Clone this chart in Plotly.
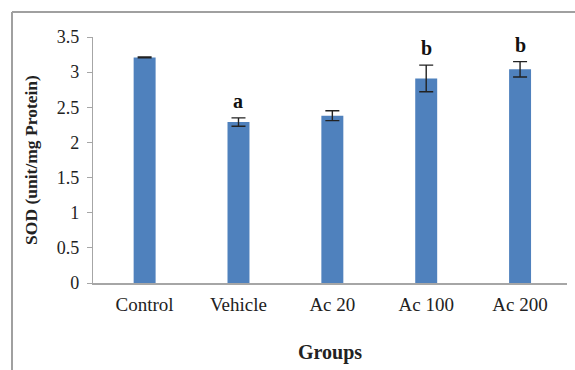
import plotly.graph_objects as go

# SOD activity per treatment group (mean ± SE)
groups = ["Control", "Vehicle", "Ac 20", "Ac 100", "Ac 200"]
sod_mean = [3.21, 2.29, 2.38, 2.91, 3.04]
sod_err = [0.005, 0.06, 0.07, 0.19, 0.11]
sig_letters = ["", "a", "", "b", "b"]

W, H = 575, 370
ML, MR, MT, MB = 93, 8, 37, 87
pw, ph = W - ML - MR, H - MT - MB

def px_to_paper_x(px):
    return (px - ML) / pw

def px_to_paper_y(py):
    return (H - py - MB) / ph

axis_grey = "#a6a6a6"
serif = "Liberation Serif, Times New Roman, serif"

fig = go.Figure(
    go.Bar(
        x=groups,
        y=sod_mean,
        width=0.234,
        marker=dict(color="#4F81BD", line=dict(width=0)),
        error_y=dict(type="data", array=sod_err, visible=True,
                     color="#222222", thickness=1.4, width=7),
        showlegend=False,
    )
)

# significance letters above the error bars
for g, m, e, s in zip(groups, sod_mean, sod_err, sig_letters):
    if s:
        fig.add_annotation(x=g, y=m + e, text=f"<b>{s}</b>", showarrow=False,
                           yanchor="bottom", yshift=4,
                           font=dict(family=serif, size=20, color="#111111"))

# outer frame of the chart area
x0, y0 = px_to_paper_x(12), px_to_paper_y(12)
x1, y1 = px_to_paper_x(W + 5), px_to_paper_y(H + 5)
fig.add_shape(type="line", xref="paper", yref="paper", x0=x0, y0=y0, x1=x1, y1=y0,
              line=dict(color="#a0a0a0", width=2))
fig.add_shape(type="line", xref="paper", yref="paper", x0=x0, y0=y0, x1=x0, y1=y1,
              line=dict(color="#a0a0a0", width=2))

fig.update_layout(
    width=W, height=H,
    margin=dict(l=ML, r=MR, t=MT, b=MB),
    paper_bgcolor="white", plot_bgcolor="white",
    font=dict(family=serif, size=19, color="#222222"),
    xaxis=dict(
        range=[-0.55, 4.5], showline=True, linecolor=axis_grey, linewidth=1.5,
        ticks="", showgrid=False, zeroline=False,
        tickfont=dict(size=19), ticklabelstandoff=3,
        title=dict(text="<b>Groups</b>", font=dict(size=20), standoff=31),
    ),
    yaxis=dict(
        range=[0, 3.5], dtick=0.5, showline=True, linecolor=axis_grey, linewidth=1.2,
        ticks="outside", ticklen=5, tickcolor=axis_grey, showgrid=False, zeroline=False,
        tickfont=dict(size=18), ticklabelstandoff=4,
        title=dict(text="<b>SOD (unit/mg Protein)</b>", font=dict(size=17.5), standoff=14),
    ),
)

fig.write_html("out.html")
